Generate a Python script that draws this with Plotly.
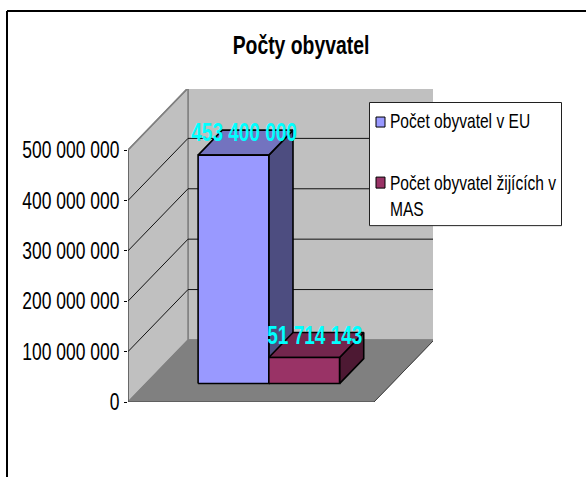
import plotly.graph_objects as go

# Data
chart_title = "Počty obyvatel"
series_names = ["Počet obyvatel v EU", "Počet obyvatel žijících v<br>MAS"]
series_values = [453400000, 51714143]
value_labels = ["453 400 000", "51 714 143"]
tick_values = [0, 100000000, 200000000, 300000000, 400000000, 500000000]
tick_labels = ["0", "100 000 000", "200 000 000", "300 000 000", "400 000 000", "500 000 000"]

# Style
FRONT = ["#9999FF", "#993366"]
TOP = ["#7373BF", "#73264D"]
SIDE = ["#4D4D80", "#4D1933"]
WALL = "#C0C0C0"
FLOOR = "#808080"
FONT = "Liberation Sans, Arial, sans-serif"

# Oblique projection: the depth axis is sheared into the category/value plane
W, H = 586, 477
L, R, T, B = 128.0, 433.0, 89.0, 401.7
PX_PER_CAT = 123.0
PX_PER_UNIT = (B - 150.0) / 500000000
DEPTH_X = 60.0 / PX_PER_CAT
DEPTH_Y = 62.0 / PX_PER_UNIT
AXIS_MAX = 500000000
BAR_W = 0.575
D0, D1 = 0.297, 0.70


def p(cat, val, d=0.0):
    return cat + d * DEPTH_X, val + d * DEPTH_Y


def poly(pts, fill, line="#000000", width=1.6, name=None):
    xs, ys = zip(*(pts + pts[:1]))
    return go.Scatter(x=xs, y=ys, mode="lines", fill="toself", fillcolor=fill,
                      line=dict(color=line, width=width), showlegend=False,
                      hoverinfo="skip", name=name, cliponaxis=False)


def gridline(pts, color="#000000", width=1.0):
    xs, ys = zip(*pts)
    return go.Scatter(x=xs, y=ys, mode="lines", line=dict(color=color, width=width),
                      showlegend=False, hoverinfo="skip", cliponaxis=False)


fig = go.Figure()
cat_end = 2.0

# Walls and floor
fig.add_trace(poly([p(0, 0, 1), p(cat_end, 0, 1), p(cat_end, AXIS_MAX, 1), p(0, AXIS_MAX, 1)], WALL, "#808080", 1.5))
fig.add_trace(poly([p(0, 0, 0), p(0, 0, 1), p(0, AXIS_MAX, 1), p(0, AXIS_MAX, 0)], WALL, "#808080", 1.5))
fig.add_trace(poly([p(0, 0, 0), p(cat_end, 0, 0), p(cat_end, 0, 1), p(0, 0, 1)], FLOOR, "#808080", 1.0))
fig.add_trace(gridline([p(0, 0, 0), p(cat_end, 0, 0)], "#404040", 1.0))
fig.add_trace(gridline([p(cat_end, 0, 0), p(cat_end, 0, 1)], "#404040", 1.0))
fig.add_trace(gridline([p(0, 0, 0), p(0, AXIS_MAX, 0)], "#404040", 1.0))

# Gridlines
for v in tick_values[1:-1]:
    fig.add_trace(gridline([p(0, v, 0), p(0, v, 1), p(cat_end, v, 1)], "#111111", 1.0))
fig.add_trace(gridline([p(0, AXIS_MAX, 0), p(0, AXIS_MAX, 1)], "#808080", 1.5))
fig.add_trace(gridline([p(0, AXIS_MAX, 1), p(cat_end, AXIS_MAX, 1)], "#808080", 2.0))

# Bars
left = [1.0 - BAR_W, 1.0]
for i, v in enumerate(series_values):
    x0, x1 = left[i], left[i] + BAR_W
    fig.add_trace(poly([p(x1, 0, D0), p(x1, 0, D1), p(x1, v, D1), p(x1, v, D0)], SIDE[i]))
    fig.add_trace(poly([p(x0, v, D0), p(x1, v, D0), p(x1, v, D1), p(x0, v, D1)], TOP[i]))
    fig.add_trace(poly([p(x0, 0, D0), p(x1, 0, D0), p(x1, v, D0), p(x0, v, D0)], FRONT[i],
                       name=series_names[i].replace("<br>", " ")))

# Data labels
for i, v in enumerate(series_values):
    cx = left[i] + BAR_W / 2
    lx, _ = p(cx, v, (D0 + D1) / 2)
    _, ly = p(cx, v, D1)
    fig.add_trace(go.Scatter(x=[lx - 0.012], y=[ly - 10000000], mode="text", text=[value_labels[i]],
                             textposition="middle center", showlegend=False, hoverinfo="skip",
                             cliponaxis=False,
                             textfont=dict(family=FONT, size=25, color="#00FFFF", weight="bold")))


def px(x):
    return (x - L) / (R - L)


def py(y):
    return (B - y) / (B - T)


shapes = [
    dict(type="line", xref="paper", yref="paper", x0=px(7), x1=px(586), y0=py(11), y1=py(11),
         line=dict(color="#000000", width=2)),
    dict(type="line", xref="paper", yref="paper", x0=px(7), x1=px(7), y0=py(11), y1=py(477),
         line=dict(color="#000000", width=2)),
    dict(type="rect", xref="paper", yref="paper", x0=px(369.5), x1=px(561.5), y0=py(102.5), y1=py(225.5),
         fillcolor="#FFFFFF", line=dict(color="#202020", width=1), layer="above"),
    dict(type="rect", xref="paper", yref="paper", x0=px(376), x1=px(385), y0=py(117), y1=py(127),
         fillcolor=FRONT[0], line=dict(color="#000000", width=1), layer="above"),
    dict(type="rect", xref="paper", yref="paper", x0=px(376), x1=px(385), y0=py(177), y1=py(188),
         fillcolor=FRONT[1], line=dict(color="#000000", width=1), layer="above"),
]

legend_lines = [series_names[0]] + series_names[1].split("<br>")
legend_y = [120, 182, 208]
annotations = [
    dict(text=chart_title, xref="paper", yref="paper", x=px(300.5), y=py(45), showarrow=False,
         xanchor="center", yanchor="middle", font=dict(family=FONT, size=25.5, color="#000000", weight="bold")),
]
for line, ly in zip(legend_lines, legend_y):
    annotations.append(dict(text=line, xref="paper", yref="paper", x=px(388), y=py(ly), showarrow=False,
                            xanchor="left", yanchor="middle", align="left",
                            font=dict(family=FONT, size=20.5, color="#000000")))

fig.update_layout(
    width=W, height=H, autosize=False,
    margin=dict(l=L, r=W - R, t=T, b=H - B, pad=0, autoexpand=False),
    paper_bgcolor="#FFFFFF", plot_bgcolor="#FFFFFF",
    showlegend=False, shapes=shapes, annotations=annotations,
    xaxis=dict(range=[0, (R - L) / PX_PER_CAT], visible=False, fixedrange=True),
    yaxis=dict(range=[0, (B - T) / PX_PER_UNIT], tickmode="array", tickvals=tick_values,
               ticktext=tick_labels, ticks="outside", ticklen=3, tickwidth=1, tickcolor="#000000",
               showgrid=False, zeroline=False, showline=False, fixedrange=True, automargin=False,
               tickfont=dict(family=FONT, size=23, color="#000000")),
)

# The reference text is horizontally condensed; scale real text about its anchor, and drop the page margin.
post = """
document.documentElement.style.margin = '0';
document.body.style.margin = '0';
document.querySelectorAll('svg text').forEach(function (t) {
  if (!t.textContent) return;
  var x = parseFloat(t.getAttribute('x')) || 0;
  var old = t.getAttribute('transform') || '';
  t.setAttribute('transform', old + ' translate(' + x + ',0) scale(0.76,1) translate(' + (-x) + ',0)');
});
"""
fig.write_html("out.html", config=dict(displayModeBar=False), post_script=post)
